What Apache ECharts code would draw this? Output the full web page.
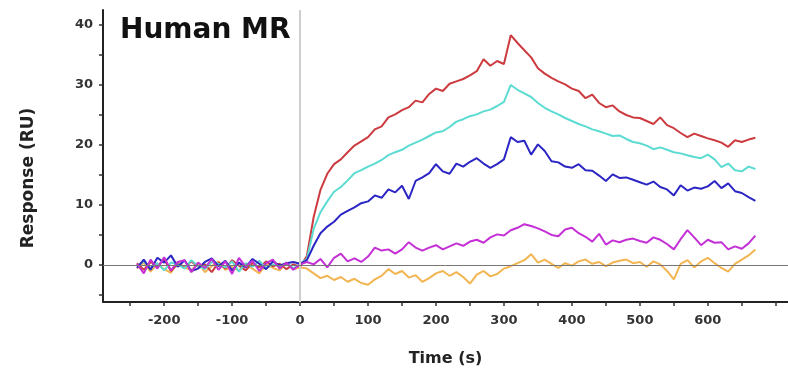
<!DOCTYPE html>
<html>
<head>
<meta charset="utf-8">
<script src="https://cdn.jsdelivr.net/npm/echarts@6/dist/echarts.min.js"></script>
<style>
  html, body { margin: 0; padding: 0; background: #fff; }
  #main { width: 788px; height: 374px; }
</style>
</head>
<body>
<div id="main"></div>
<script>
// sample times (s), one every 10 s
var times = [-240, -230, -220, -210, -200, -190, -180, -170, -160, -150, -140, -130, -120, -110, -100,
	-90, -80, -70, -60, -50, -40, -30, -20, -10, 0,
	10, 20, 30, 40, 50, 60, 70, 80, 90, 100, 110, 120, 130, 140, 150, 160, 170, 180, 190, 200,
	210, 220, 230, 240, 250, 260, 270, 280, 290, 300, 310, 320, 330, 340, 350, 360, 370, 380, 390, 400,
	410, 420, 430, 440, 450, 460, 470, 480, 490, 500, 510, 520, 530, 540, 550, 560, 570, 580, 590, 600,
	610, 620, 630, 640, 650, 660, 670];

var redVals = [0.3, -0.8, 0.5, -0.2, 0.9, -1.0, 0.2, -0.5, 0.6, -0.3, 0.1, -1.2, 0.4, -0.6, 0.8, -0.1, -0.9, 0.3, -0.4, 0.6, -0.2, 0.2, -0.7, 0.1, -0.3,
	1.5, 8.0, 12.5, 15.2, 16.8, 17.6, 18.8, 19.9, 20.6, 21.3, 22.6, 23.1, 24.6, 25.1, 25.8, 26.3, 27.4, 27.1, 28.5, 29.4,
	29.0, 30.2, 30.6, 31.0, 31.6, 32.3, 34.3, 33.2, 34.0, 33.5, 38.3, 37.0, 35.8, 34.6, 32.8, 31.9, 31.2, 30.6, 30.1, 29.4,
	29.0, 27.8, 28.4, 27.0, 26.3, 26.6, 25.6, 25.0, 24.6, 24.5, 24.0, 23.5, 24.6, 23.3, 22.8, 22.0, 21.3, 21.9, 21.5, 21.1,
	20.8, 20.4, 19.7, 20.8, 20.5, 20.9, 21.2];

var cyanVals = [-0.2, 0.6, -0.5, 0.3, -0.9, 0.4, 0.1, -0.6, 0.8, -0.2, -0.7, 0.5, 0.2, -0.4, 0.6, -1.1, 0.3, -0.3, 0.7, -0.5, 0.1, -0.2, 0.4, -0.6, 0.2,
	1.0, 6.0, 8.8, 10.6, 12.2, 13.0, 14.1, 15.3, 15.8, 16.4, 16.9, 17.5, 18.3, 18.8, 19.2, 19.9, 20.4, 20.9, 21.5, 22.1,
	22.3, 23.0, 23.9, 24.3, 24.8, 25.1, 25.6, 25.9, 26.5, 27.2, 30.0, 29.2, 28.6, 28.0, 27.0, 26.2, 25.6, 25.1, 24.5, 24.0,
	23.5, 23.1, 22.6, 22.3, 21.9, 21.5, 21.6, 21.0, 20.5, 20.3, 19.9, 19.3, 19.6, 19.2, 18.8, 18.6, 18.3, 18.0, 17.8, 18.4,
	17.6, 16.3, 16.9, 15.8, 15.6, 16.4, 16.0];

var blueVals = [-0.5, 0.9, -0.8, 1.2, 0.4, 1.6, -0.3, 0.8, -1.0, -0.6, 0.5, 1.1, -0.2, 0.7, -0.9, 0.4, -0.4, 1.0, 0.2, -0.7, 0.6, -0.1, 0.3, 0.5, 0.2,
	0.8, 3.2, 5.3, 6.4, 7.2, 8.4, 9.0, 9.6, 10.3, 10.6, 11.6, 11.2, 12.6, 12.1, 13.2, 11.0, 14.0, 14.6, 15.3, 16.8,
	15.6, 15.2, 16.9, 16.4, 17.2, 17.8, 16.9, 16.2, 16.8, 17.6, 21.3, 20.5, 20.7, 18.4, 20.1, 19.0, 17.3, 17.1, 16.4, 16.2,
	16.8, 15.8, 15.7, 14.9, 14.0, 15.1, 14.5, 14.6, 14.2, 13.8, 13.4, 13.9, 13.0, 12.6, 11.6, 13.3, 12.4, 12.9, 12.7, 13.1,
	14.0, 12.8, 13.6, 12.3, 12.0, 11.3, 10.7];

var magentaVals = [0.2, -1.4, 0.9, -0.6, 1.3, -0.9, 0.5, 0.8, -1.2, 0.4, -0.5, 1.0, -0.8, 0.6, -1.5, 1.2, -0.3, 0.7, -1.0, 0.3, 0.9, -0.6, 0.4, -0.8, 0.1,
	0.5, 0.1, 1.0, -0.4, 1.2, 1.9, 0.6, 1.1, 0.5, 1.4, 2.9, 2.4, 2.6, 1.9, 2.6, 3.8, 2.9, 2.4, 2.9, 3.3,
	2.6, 3.1, 3.6, 3.2, 3.9, 4.2, 3.7, 4.6, 5.1, 4.9, 5.8, 6.2, 6.8, 6.5, 6.1, 5.6, 5.0, 4.8, 5.9, 6.2,
	5.3, 4.7, 3.9, 5.2, 3.4, 4.1, 3.8, 4.2, 4.4, 4.0, 3.7, 4.6, 4.2, 3.5, 2.6, 4.3, 5.8, 4.6, 3.3, 4.2,
	3.7, 3.8, 2.6, 3.1, 2.7, 3.6, 4.9];

var orangeVals = [-0.6, 0.4, -1.1, 0.2, -0.7, -1.3, 0.5, -0.4, -0.9, 0.3, -1.2, -0.2, 0.6, -0.8, -0.3, -1.0, 0.2, -0.6, -1.4, 0.1, -0.5, -0.9, 0.3, -0.7, -0.4,
	-0.6, -1.4, -2.2, -1.8, -2.5, -2.0, -2.8, -2.3, -3.0, -3.3, -2.4, -1.8, -0.7, -1.5, -1.0, -2.1, -1.7, -2.8, -2.2, -1.4,
	-1.0, -1.8, -1.2, -2.0, -3.1, -1.6, -1.0, -1.9, -1.5, -0.6, -0.2, 0.3, 0.8, 1.8, 0.4, 0.9, 0.2, -0.5, 0.3, -0.1,
	0.6, 0.9, 0.2, 0.5, -0.2, 0.4, 0.7, 0.9, 0.3, 0.5, -0.3, 0.6, 0.1, -1.0, -2.4, 0.2, 0.8, -0.4, 0.6, 1.2,
	0.3, -0.5, -1.1, 0.2, 0.9, 1.6, 2.6];

var xTicks = [-250, -200, -150, -100, -50, 0, 50, 100, 150, 200, 250, 300, 350, 400, 450, 500, 550, 600, 650, 700];
var xLabels = [-200, -100, 0, 100, 200, 300, 400, 500, 600];
var yTicks = [-5, 0, 5, 10, 15, 20, 25, 30, 35, 40];
var yLabels = [0, 10, 20, 30, 40];

var myChart = echarts.init(document.getElementById('main'));

function pairs(vals) {
	return times.map(function (t, i) { return [t, vals[i]]; });
}

function line(name, vals, color, extra) {
	var s = {
		name: name,
		type: 'line',
		data: pairs(vals),
		showSymbol: false,
		lineStyle: { color: color, width: 2 },
		itemStyle: { color: color }
	};
	return Object.assign(s, extra || {});
}

var font = 'DejaVu Sans';

option = {
	animation: false,
	backgroundColor: '#fff',
	title: {
		text: 'Human MR',
		left: 115,
		top: 12,
		textStyle: { fontFamily: font, fontSize: 28, fontWeight: 'bold', color: '#111' }
	},
	grid: {
		left: 103,
		right: 0,
		top: 10,
		bottom: 72
	},
	xAxis: {
		type: 'value',
		min: -290,
		max: 718,
		name: 'Time (s)',
		nameLocation: 'middle',
		nameGap: 49,
		nameTextStyle: { fontFamily: font, fontSize: 16, fontWeight: 'bold', color: '#222' },
		axisLine: { onZero: false, lineStyle: { color: '#222', width: 2 } },
		axisTick: { customValues: xTicks, length: 4, lineStyle: { color: '#333', width: 1.5 } },
		axisLabel: { customValues: xLabels, margin: 12, fontFamily: font, fontSize: 13, fontWeight: 'bold', color: '#333' },
		splitLine: { show: false }
	},
	yAxis: {
		type: 'value',
		min: -6.17,
		max: 42.5,
		axisLine: { onZero: false, lineStyle: { color: '#222', width: 2 } },
		axisTick: { customValues: yTicks, length: 4, lineStyle: { color: '#333', width: 1.5 } },
		axisLabel: { customValues: yLabels, margin: 10, fontFamily: font, fontSize: 13, fontWeight: 'bold', color: '#333' },
		splitLine: { show: false }
	},
	graphic: [
		{
			type: 'text',
			x: 29,
			y: 178,
			rotation: Math.PI / 2,
			style: {
				text: 'Response (RU)',
				fontFamily: font,
				fontSize: 17,
				fontWeight: 'bold',
				fill: '#222',
				align: 'center',
				verticalAlign: 'middle'
			}
		}
	],
	series: [
		line('orange', orangeVals, '#f2b552', {
			markLine: {
				silent: true,
				symbol: 'none',
				label: { show: false },
				data: [
					{ xAxis: 0, lineStyle: { color: '#cfcfcf', width: 2, type: 'solid' } },
					{ yAxis: 0, lineStyle: { color: '#777', width: 1, type: 'solid' } }
				]
			}
		}),
		line('red', redVals, '#cc3b3f'),
		line('cyan', cyanVals, '#5cdbd2'),
		line('blue', blueVals, '#2b25c4'),
		line('magenta', magentaVals, '#c42fd6')
	]
};

myChart.setOption(option);
</script>
</body>
</html>
